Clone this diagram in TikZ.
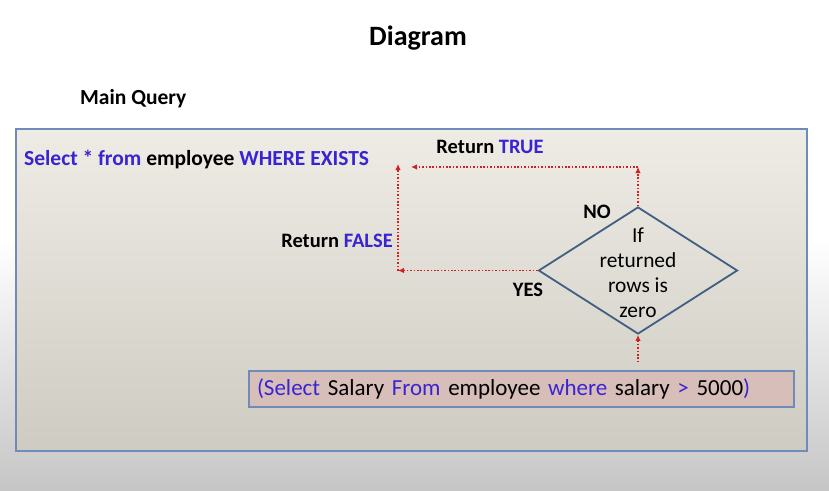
\documentclass[tikz,border=0pt]{standalone}
\usepackage{fontspec}
\setmainfont{Carlito}
\usetikzlibrary{shapes.geometric,arrows.meta}

\definecolor{qblue}{RGB}{58,36,210}
\definecolor{flowred}{RGB}{204,34,34}
\definecolor{edgeblue}{RGB}{110,140,185}
\definecolor{diamondblue}{RGB}{65,95,130}
\definecolor{boxtop}{RGB}{238,236,228}
\definecolor{boxbottom}{RGB}{206,203,195}
\definecolor{subfill}{RGB}{216,190,184}

\tikzset{
  flow/.style={draw=flowred, line width=1.9pt, dash pattern=on 1.6pt off 1.8pt,
               -{Latex[length=6pt,width=5.5pt]}},
  label/.style={font=\bfseries\fontsize{20.5}{24}\selectfont, inner sep=0pt},
  decision/.style={diamond, draw=diamondblue, line width=1.8pt,
                   minimum width=199pt, minimum height=127pt, inner sep=0pt},
}

\begin{document}
\begin{tikzpicture}[x=1pt,y=-1pt]
                % background
                \fill[white] (0,0) rectangle (829,240);
                \shade[top color=white, bottom color=gray!45] (0,240) rectangle (829,490);
                \useasboundingbox (0,0) rectangle (829,490);

                \node[font=\bfseries\fontsize{28}{32}\selectfont] (title) at (418,38) {Diagram};
                \node[label, anchor=west, font=\bfseries\fontsize{21.5}{25}\selectfont] (mainq) at (80,99) {Main Query};

                % outer box
                \node[draw=edgeblue, line width=1.2pt, top color=boxtop, bottom color=boxbottom,
                      minimum width=791pt, minimum height=322pt, inner sep=0pt] (mainbox) at (411.5,290) {};
                \node[label, anchor=west, font=\bfseries\fontsize{21.5}{25}\selectfont] (mainsql) at (24,159)
                     {\textcolor{qblue}{Select * from} employee \textcolor{qblue}{WHERE EXISTS}};

                % condition
                \node[decision] (cond) at (638,270.5) {};
                \node[align=center, font=\fontsize{21.4}{25}\selectfont, inner sep=0pt] (condtext) at ([yshift=-2.5pt]cond)
                     {If\\returned\\rows is\\zero};

                \coordinate (yescorner) at (398,270.5);
                \coordinate (falseend) at (398,164);
                \coordinate (nocorner) at (638,167);
                \coordinate (trueend) at (411,167);

                \draw[flow] (cond.west) -- (yescorner);
                \draw[flow] (yescorner) -- (falseend);
                \draw[flow] (cond.north) -- (nocorner);
                \draw[flow] (nocorner) -- (trueend);

                \node[label] (truelbl) at (490,147) {Return \textcolor{qblue}{TRUE}};
                \node[label, anchor=east] (falselbl) at (393,241) {Return \textcolor{qblue}{FALSE}};
                \node[label] (nolbl) at (597,212) {NO};
                \node[label] (yeslbl) at (528,290) {YES};

                % sub query
                \node[draw=edgeblue, line width=1.2pt, fill=subfill, minimum width=545pt, minimum height=36pt,
                      inner xsep=8pt, text width=529pt, align=left, font=\fontsize{23}{27}\selectfont]
                      (subq) at (521.5,389)
                     {\textcolor{qblue}{(Select} Salary \textcolor{qblue}{From} employee \textcolor{qblue}{where} salary \textcolor{qblue}{>} 5000\textcolor{qblue}{)}};
                \draw[flow, shorten <=8pt] (subq.north -| cond) -- (cond.south);
            \end{tikzpicture}
\end{document}
